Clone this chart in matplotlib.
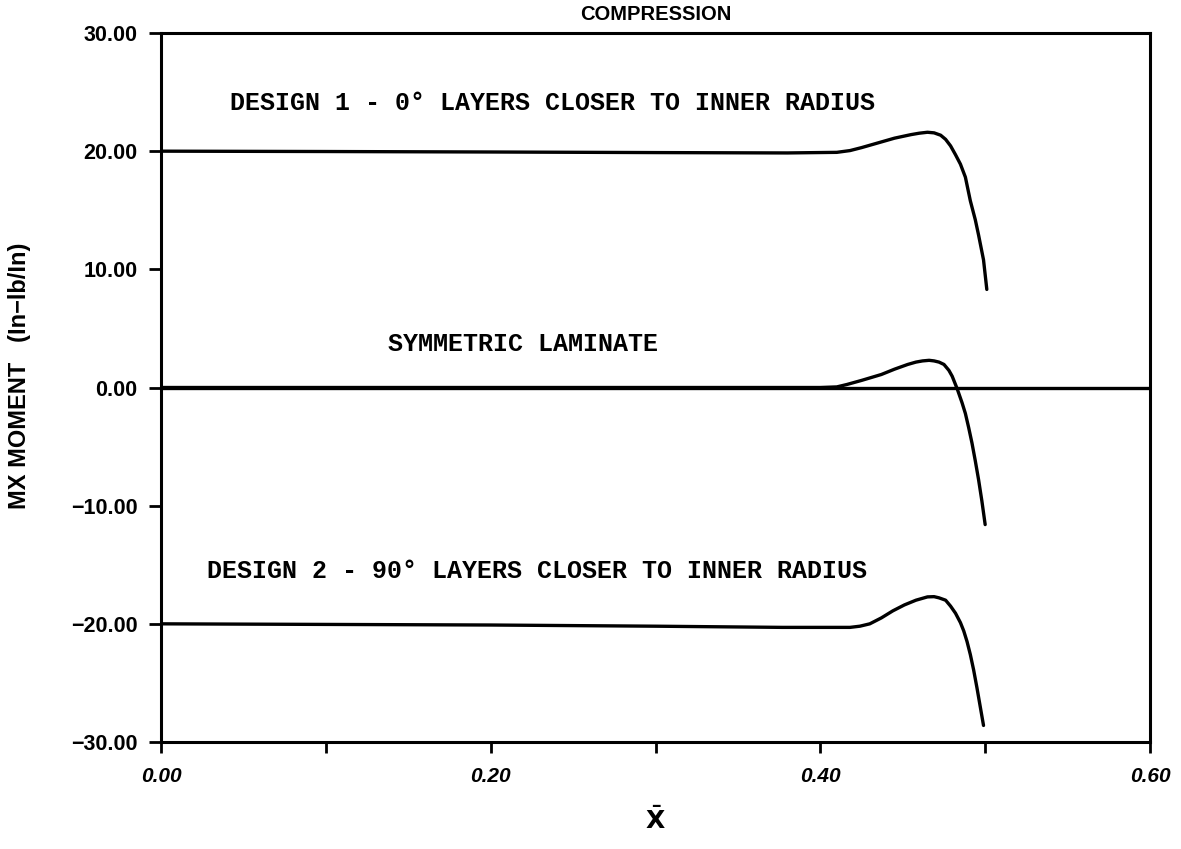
import numpy as np
import matplotlib
matplotlib.use("Agg")
import matplotlib.pyplot as plt

# MX moment along x-bar for the three laminate layups (compression)
design1_x = [0.0, 0.1, 0.2, 0.3, 0.38, 0.41, 0.418, 0.425, 0.43, 0.435, 0.44,
             0.445, 0.45, 0.455, 0.46, 0.465, 0.469, 0.473, 0.476, 0.479,
             0.482, 0.485, 0.488, 0.491, 0.494, 0.496, 0.499, 0.501]
design1_y = [20.0, 19.97, 19.93, 19.88, 19.85, 19.9, 20.05, 20.3, 20.5, 20.7, 20.9,
             21.1, 21.25, 21.4, 21.52, 21.6, 21.55, 21.35, 21.0, 20.45,
             19.7, 18.9, 17.8, 15.8, 14.2, 12.9, 10.8, 8.3]

sym_x = [0.0, 0.2, 0.4, 0.41, 0.416, 0.425, 0.431, 0.437, 0.445, 0.453, 0.458,
         0.462, 0.466, 0.469, 0.472, 0.475, 0.478, 0.480, 0.483, 0.486, 0.488,
         0.490, 0.492, 0.494, 0.496, 0.498, 0.500]
sym_y = [0.0, 0.0, 0.0, 0.05, 0.25, 0.6, 0.85, 1.1, 1.55, 1.95, 2.15,
         2.25, 2.3, 2.25, 2.15, 1.95, 1.45, 0.95, -0.1, -1.3, -2.2,
         -3.4, -4.7, -6.2, -7.8, -9.6, -11.6]

design2_x = [0.0, 0.1, 0.2, 0.3, 0.377, 0.418, 0.424, 0.430, 0.437, 0.444, 0.451,
             0.458, 0.465, 0.469, 0.472, 0.476, 0.479, 0.482, 0.485, 0.487,
             0.489, 0.491, 0.493, 0.495, 0.497, 0.499]
design2_y = [-20.0, -20.05, -20.1, -20.2, -20.3, -20.3, -20.2, -20.0, -19.5, -18.9, -18.4,
             -18.0, -17.72, -17.7, -17.8, -18.0, -18.5, -19.1, -19.9, -20.6,
             -21.5, -22.6, -23.9, -25.4, -27.0, -28.6]

x_major = [0.0, 0.2, 0.4, 0.6]
x_minor = [0.1, 0.3, 0.5]
y_ticks = [-30, -20, -10, 0, 10, 20, 30]

W, H = 1181, 849
fig = plt.figure(figsize=(W / 100, H / 100), dpi=100)
ax = fig.add_axes([161 / W, 1 - 742 / H, (1150 - 161) / W, (742 - 33) / H])

lw = 2.4
for xs, ys in [(design1_x, design1_y), (sym_x, sym_y), (design2_x, design2_y)]:
    ax.plot(xs, ys, color="black", lw=lw, solid_capstyle="round",
            solid_joinstyle="round")
ax.axhline(0, color="black", lw=lw)

ax.set_xlim(0, 0.6)
ax.set_ylim(-30, 30)

for s in ax.spines.values():
    s.set_linewidth(2.2)

ax.set_xticks(x_major)
ax.set_xticks(x_minor, minor=True)
ax.set_yticks(y_ticks)
ax.set_xticklabels([f"{v:.2f}" for v in x_major], fontfamily="Liberation Sans",
                   fontweight="bold", fontstyle="italic", fontsize=15)
ax.set_yticklabels([f"{v:.2f}".replace("-", "\u2212") for v in y_ticks],
                   fontfamily="Liberation Sans", fontweight="bold", fontsize=15.5)
ax.tick_params(axis="x", which="both", direction="out", length=8, width=2, pad=10)
ax.tick_params(axis="y", which="both", direction="out", length=9, width=2, pad=8)

mono = dict(fontfamily="Liberation Mono", fontweight="bold", fontsize=18,
            color="black", va="baseline")
ax.text(0.042, 23.5, "DESIGN 1 - 0\u00b0 LAYERS CLOSER TO INNER RADIUS", **mono)
ax.text(0.138, 3.1, "SYMMETRIC LAMINATE", **mono)
ax.text(0.028, -16.1, "DESIGN 2 - 90\u00b0 LAYERS CLOSER TO INNER RADIUS", **mono)

ax.set_title("COMPRESSION", fontfamily="Liberation Sans", fontweight="bold",
             fontsize=14.5, pad=9)
fig.text(655 / W, 1 - 820 / H, r"$\mathbf{\bar{X}}$", fontsize=18,
         ha="center", va="center")
fig.text(20 / W, 1 - 376 / H, "MX MOMENT   (In\u2212lb/In)", rotation=90,
         fontfamily="Liberation Sans", fontweight="bold", fontsize=17,
         ha="center", va="center")

fig.savefig("out.png", dpi=100)
